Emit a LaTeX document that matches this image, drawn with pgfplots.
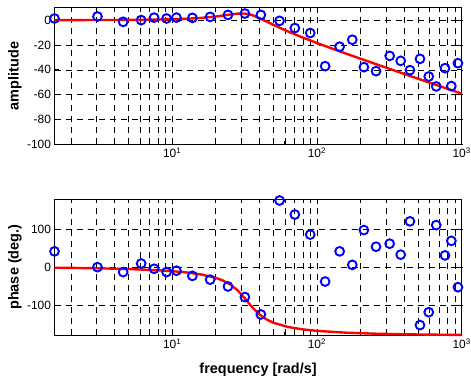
\documentclass[border=0pt]{standalone}
\usepackage{fontspec}
\setmainfont{Liberation Sans}
\usepackage{pgfplots}
\pgfplotsset{compat=1.18}
\pgfplotsset{
  mybode/.style={
    anchor=south west, scale only axis,
    width=407.2bp,
    xmin=1.54, xmax=1000,
    xtick={10,100,1000},
    xticklabels={10\textsuperscript{1},10\textsuperscript{2},10\textsuperscript{3}},
    minor xtick={2,3,4,5,6,7,8,9,20,30,40,50,60,70,80,90,200,300,400,500,600,700,800,900},
    grid=both,
    major grid style={black, line width=0.5bp, dash pattern=on 6bp off 5bp},
    minor grid style={black, line width=0.5bp, dash pattern=on 6bp off 5bp},
    axis line style={black, line width=0.9bp},
    tick style={black, line width=0.7bp},
    tick align=inside,
    major tick length=5bp, minor tick length=3bp,
    xtick pos=both, ytick pos=both,
    yticklabel style={/pgf/number format/assume math mode=true},
    tick label style={font=\fontsize{12}{13}\selectfont},
    label style={font=\fontsize{14.5}{16}\selectfont\bfseries},
    y label style={at={(axis description cs:-0.097,0.5)}, anchor=center},
    x label style={at={(axis description cs:0.5,0)}, anchor=base, yshift=-38bp},
    clip=false,
  },
  mydat/.style={only marks, mark=o, blue, mark size=4.4bp, line width=1.9bp},
  myfit/.style={red, line width=2.4bp, no marks},
}
\begin{document}
\begin{tikzpicture}
\useasboundingbox (0,0) rectangle (471bp,382bp);
% ---------- amplitude ----------
\begin{semilogxaxis}[mybode, at={(54.5bp,237.7bp)}, height=136.6bp,
  ymin=-100, ymax=10, ytick={-100,-80,-60,-40,-20,0},
  ylabel={amplitude}]
\addplot[mydat] coordinates {
(1.54,1.3) (3.05,2.9) (4.59,-1.4) (6.11,0.0) (7.51,2.0) (9.15,1.3) (10.7,2.0)
(13.8,1.8) (18.3,2.6) (24.3,4.2) (31.8,5.3) (41.0,4.2) (55.2,-0.6) (70.4,-6.4)
(89.9,-10.4) (114,-37.1) (143.5,-21.4) (175.5,-15.8) (211,-37.9) (256,-41.1)
(318,-28.8) (379,-32.8) (439,-40.3) (515,-31.2) (592,-45.4) (667,-53.4)
(767,-38.7) (848,-53.1) (942,-34.7)
};
\addplot[myfit] coordinates {
(1.54,0.02) (2,0.03) (3.16,0.07) (5.01,0.17) (7.94,0.43) (10,0.69) (12.59,1.10)
(15.85,1.78) (19.95,2.86) (22.39,3.61) (25.12,4.45) (28.18,5.20) (31.62,5.31)
(35.48,4.12) (39.81,1.78) (44.67,-1.03) (50.12,-3.86) (63.10,-9.14) (79.43,-13.94)
(100,-18.44) (158.5,-26.94) (251.2,-35.13) (398.1,-43.21) (631,-51.24) (1000,-59.25)
};
\end{semilogxaxis}
% ---------- phase ----------
\begin{semilogxaxis}[mybode, at={(54.5bp,46.7bp)}, height=136.3bp,
  ymin=-180, ymax=180, ytick={-100,0,100},
  ylabel={phase (deg.)}, xlabel={frequency [rad/s]}]
\addplot[mydat] coordinates {
(1.54,41.7) (3.05,0) (4.59,-13) (6.11,9.6) (7.51,-4.3) (9.15,-13) (10.7,-9.4)
(13.8,-23) (18.3,-33) (24.3,-51) (31.8,-79) (41.0,-125) (55.2,176) (70.4,139)
(89.9,86) (114,-38) (143.5,41.7) (175.5,6) (211,98) (256,54)
(318,62) (379,33) (439,121) (515,-153) (592,-119) (667,111)
(767,31) (848,69.5) (942,-53)
};
\addplot[myfit] coordinates {
(1.54,-1.5) (2,-1.95) (3.16,-3.1) (5.01,-4.98) (7.94,-8.14) (10,-10.58) (12.59,-14.04)
(15.85,-19.27) (19.95,-28.09) (22.39,-35.14) (25.12,-45.38) (28.18,-60.5) (31.62,-81.34)
(35.48,-104.53) (39.81,-123.99) (44.67,-137.67) (50.12,-146.94) (63.10,-158.04)
(79.43,-164.30) (100,-168.28) (158.5,-173.05) (251.2,-175.72) (398.1,-177.32)
(631,-178.32) (1000,-178.94)
};
\end{semilogxaxis}
\end{tikzpicture}
\end{document}
